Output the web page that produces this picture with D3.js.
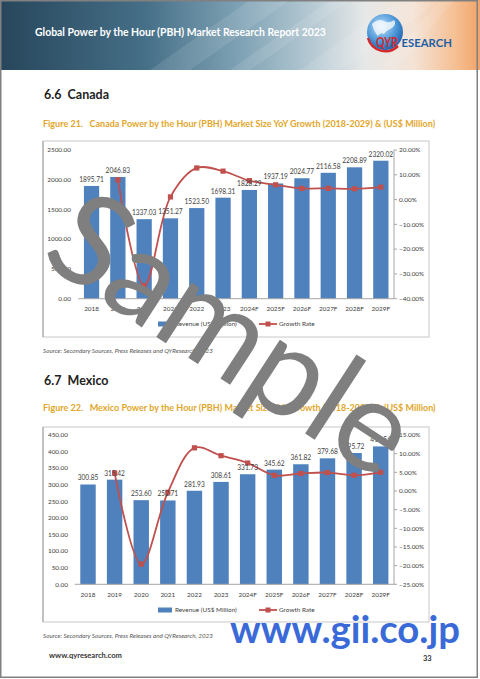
<!DOCTYPE html>
<html><head><meta charset="utf-8">
<script src="https://cdn.jsdelivr.net/npm/d3@7"></script>
<style>
body{margin:0;background:#fff}
svg{display:block}
text{font-family:Lato,"Open Sans",sans-serif}
</style>
</head><body>
<svg id="c" width="480" height="679"></svg>
<script>
// ---------------- data ----------------
const years = ["2018","2019","2020","2021","2022","2023","2024F","2025F","2026F","2027F","2028F","2029F"];
const canadaRevenue = [1895.71,2046.83,1337.03,1351.27,1523.50,1698.31,1828.29,1937.19,2024.77,2116.58,2208.89,2320.02];
const canadaGrowth  = [null,7.97,-34.68,1.07,12.75,11.47,7.65,5.96,4.52,4.53,4.36,5.03];
const mexicoRevenue = [300.85,315.42,253.60,252.71,281.93,308.61,331.73,345.62,361.82,379.68,395.72,415.56];
const mexicoGrowth  = [null,4.84,-19.60,-0.35,11.56,9.46,7.49,4.19,4.69,4.94,4.22,5.01];
const canadaLeftTicks  = [0,500,1000,1500,2000,2500];
const canadaRightTicks = [-40,-30,-20,-10,0,10,20];
const mexicoLeftTicks  = [0,50,100,150,200,250,300,350,400,450];
const mexicoRightTicks = [-25,-20,-15,-10,-5,0,5,10,15];
const seriesNames = ["Revenue (US$ Million)","Growth Rate"];
const headerTitle = "Global Power by the Hour (PBH) Market Research Report 2023";
const sourceText = "Source: Secondary Sources, Press Releases and QYResearch, 2023";

// ---------------- helpers ----------------
const svg = d3.select("#c");
const defs = svg.append("defs");
function fit(sel, w){
  const n = sel.node(); const cur = n.getComputedTextLength();
  const fs = parseFloat(sel.attr("font-size"));
  if (cur > 0) sel.attr("font-size", fs * w / cur);
  return sel;
}

// ---------------- header ----------------
const hg = defs.append("linearGradient").attr("id","hg").attr("x1","0").attr("x2","1").attr("y1","0").attr("y2","0");
[[0,"#27465b"],[0.3,"#456f87"],[0.5,"#7fa2b5"],[0.65,"#b5c9d3"],[0.76,"#e6e8e8"],[0.86,"#f4e3d6"],[0.95,"#f5bf92"],[1,"#f2a46a"]]
  .forEach(s => hg.append("stop").attr("offset", s[0]).attr("stop-color", s[1]));
svg.append("rect").attr("x",0).attr("y",0).attr("width",480).attr("height",70).attr("fill","url(#hg)");
const stripes = [[[150,70],[250,0],[290,0],[190,70]],[[230,70],[330,0],[350,0],[250,70]],[[300,70],[400,0],[440,0],[340,70]],[[380,70],[440,0],[455,0],[395,70]]];
stripes.forEach(p => svg.append("polygon").attr("points", p.map(q=>q.join(",")).join(" ")).attr("fill","#ffffff").attr("opacity",0.1));
fit(svg.append("text").attr("x",35).attr("y",36).attr("font-size",10).attr("font-weight","bold").attr("fill","#ffffff").text(headerTitle), 291);

// logo
const lg = defs.append("radialGradient").attr("id","lg").attr("cx","0.4").attr("cy","0.35").attr("r","0.7");
lg.append("stop").attr("offset",0).attr("stop-color","#bfe2fa");
lg.append("stop").attr("offset",0.6).attr("stop-color","#4c97d8");
lg.append("stop").attr("offset",1).attr("stop-color","#1d5ea8");
svg.append("circle").attr("cx",385).attr("cy",32).attr("r",18).attr("fill","url(#lg)");
svg.append("path").attr("d","M372,24 q6,-6 12,-3 q5,3 10,-1 q3,4 -2,8 q-5,2 -8,6 q-4,-2 -6,2 q-4,-4 -6,-12z").attr("fill","#ffffff").attr("opacity",0.75);
svg.append("path").attr("d","M368,38 A18,18 0 0 0 398,46").attr("fill","none").attr("stroke","#d3282c").attr("stroke-width",2.5);
svg.append("text").attr("transform","translate(376,47) scale(0.76,1)").attr("font-family","Liberation Sans").attr("font-weight","bold")
  .attr("font-size",14).attr("fill","#d3282c").text("QYR");
svg.append("text").attr("transform","translate(401.5,47) scale(1.0,1)").attr("font-family","Liberation Sans").attr("font-weight","bold")
  .attr("font-size",11.3).attr("fill","#1f5fa6").text("ESEARCH");

// ---------------- chart drawing ----------------
function drawChart(cfg){
  const g = svg.append("g");
  g.append("rect").attr("x",cfg.frame[0]).attr("y",cfg.frame[1]).attr("width",cfg.frame[2]).attr("height",cfg.frame[3])
    .attr("fill","none").attr("stroke","#c8c8c8").attr("stroke-width",1);
  g.append("line").attr("x1",cfg.frame[0]).attr("x2",cfg.frame[0]).attr("y1",cfg.frame[1]).attr("y2",cfg.frame[1]+cfg.frame[3]).attr("stroke","#a0a0a0");

  const x = d3.scaleBand().domain(years).range([cfg.x0, cfg.x1]).paddingInner(0.42).paddingOuter(0.21);
  const yL = d3.scaleLinear().domain(cfg.leftDomain).range([cfg.yBot, cfg.yTop]);
  const yR = d3.scaleLinear().domain(cfg.rightDomain).range([cfg.yBot, cfg.yTop]);
  const data = years.map((yr,i) => ({yr, v: cfg.revenue[i], g: cfg.growth[i]}));

  g.selectAll(".lt").data(cfg.leftTicks).join("text")
    .attr("x", cfg.leftLabelX).attr("y", d => yL(d)).attr("dy","0.35em")
    .attr("text-anchor","end").attr("font-size",6.4).attr("fill","#404040")
    .text(d => d3.format(".2f")(d));

  g.append("line").attr("x1",cfg.x1).attr("x2",cfg.x1).attr("y1",cfg.yTop).attr("y2",cfg.yBot).attr("stroke","#a6a6a6");
  g.selectAll(".rtk").data(cfg.rightTicks).join("line")
    .attr("x1",cfg.x1).attr("x2",cfg.x1+3).attr("y1",d=>yR(d)).attr("y2",d=>yR(d)).attr("stroke","#a6a6a6");
  g.selectAll(".rt").data(cfg.rightTicks).join("text")
    .attr("x", cfg.x1 + 5).attr("y", d => yR(d)).attr("dy","0.35em")
    .attr("font-size",6.4).attr("fill","#404040")
    .text(d => d3.format(".2f")(d) + "%");

  g.selectAll(".bar").data(data).join("rect")
    .attr("x", d => x(d.yr)).attr("width", x.bandwidth())
    .attr("y", d => yL(d.v)).attr("height", d => yL(0) - yL(d.v))
    .attr("fill","#4f81bd");

  g.append("line").attr("x1",cfg.x0).attr("x2",cfg.x1).attr("y1",yL(0)).attr("y2",yL(0)).attr("stroke","#a6a6a6");

  g.selectAll(".xl").data(years).join("text")
    .attr("x", d => x(d) + x.bandwidth()/2).attr("y", cfg.yBot + 12.5)
    .attr("text-anchor","middle").attr("font-size",6.4).attr("fill","#404040").text(d => d);

  const line = d3.line().defined(d => d.g != null)
    .x(d => x(d.yr) + x.bandwidth()/2).y(d => yR(d.g))
    .curve(d3.curveCatmullRom.alpha(0.5));
  g.append("path").datum(data).attr("d", line).attr("fill","none").attr("stroke","#c0504d").attr("stroke-width",1.8);
  g.selectAll(".mk").data(data.filter(d => d.g != null)).join("rect")
    .attr("x", d => x(d.yr) + x.bandwidth()/2 - 2.6).attr("y", d => yR(d.g) - 2.6)
    .attr("width",5.2).attr("height",5.2).attr("fill","#c0504d");

  g.selectAll(".dl").data(data).join("text")
    .attr("x", d => x(d.yr) + x.bandwidth()/2).attr("y", d => yL(d.v) - 4)
    .attr("text-anchor","middle").attr("font-size",6.6).attr("fill","#404040")
    .text(d => d3.format(".2f")(d.v));

  const ly = cfg.legendY;
  g.append("rect").attr("x",158).attr("y",ly-2.5).attr("width",14).attr("height",5).attr("fill","#4f81bd");
  g.append("text").attr("x",175).attr("y",ly).attr("dy","0.35em").attr("font-size",6.4).attr("fill","#404040").text(seriesNames[0]);
  g.append("line").attr("x1",259).attr("x2",277).attr("y1",ly).attr("y2",ly).attr("stroke","#c0504d").attr("stroke-width",1.8);
  g.append("rect").attr("x",265.5).attr("y",ly-2.5).attr("width",5).attr("height",5).attr("fill","#c0504d");
  g.append("text").attr("x",279).attr("y",ly).attr("dy","0.35em").attr("font-size",6.4).attr("fill","#404040").text(seriesNames[1]);
}

// ---------------- section 6.6 ----------------
svg.append("text").attr("x",44).attr("y",99).attr("font-size",12.5).attr("font-weight","bold").attr("fill","#222").attr("xml:space","preserve").text("6.6  Canada");
fit(svg.append("text").attr("x",43).attr("y",127).attr("font-size",8.5).attr("font-weight","bold").attr("fill","#e2a62a").attr("xml:space","preserve")
  .text("Figure 21.   Canada Power by the Hour (PBH) Market Size YoY Growth (2018-2029) & (US$ Million)"), 393);

drawChart({frame:[43,141,386,196], x0:78.4, x1:394, yTop:150, yBot:298.7,
  leftDomain:[0,2500], rightDomain:[-40,20], leftTicks:canadaLeftTicks, rightTicks:canadaRightTicks,
  leftLabelX:71, legendY:324, revenue:canadaRevenue, growth:canadaGrowth});

fit(svg.append("text").attr("x",43).attr("y",353).attr("font-size",5).attr("font-style","italic").attr("fill","#555").text(sourceText), 170);

// ---------------- section 6.7 ----------------
svg.append("text").attr("x",44).attr("y",385).attr("font-size",12.5).attr("font-weight","bold").attr("fill","#222").attr("xml:space","preserve").text("6.7  Mexico");
fit(svg.append("text").attr("x",43).attr("y",411).attr("font-size",8.5).attr("font-weight","bold").attr("fill","#e2a62a").attr("xml:space","preserve")
  .text("Figure 22.   Mexico Power by the Hour (PBH) Market Size YoY Growth (2018-2029) & (US$ Million)"), 393);

drawChart({frame:[43,427,386,195], x0:74.7, x1:394, yTop:435, yBot:584.3,
  leftDomain:[0,450], rightDomain:[-25,15], leftTicks:mexicoLeftTicks, rightTicks:mexicoRightTicks,
  leftLabelX:68, legendY:610, revenue:mexicoRevenue, growth:mexicoGrowth});

fit(svg.append("text").attr("x",43).attr("y",638).attr("font-size",5).attr("font-style","italic").attr("fill","#555").text(sourceText), 170);

// ---------------- footer ----------------
fit(svg.append("text").attr("x",49).attr("y",658).attr("font-size",6.5).attr("font-weight","bold").attr("fill","#333").text("www.qyresearch.com"), 73);
svg.append("text").attr("x",423).attr("y",661).attr("font-size",7.5).attr("font-weight","bold").attr("fill","#333").text("33");

// ---------------- watermarks ----------------
svg.append("text").attr("transform","translate(226,344) rotate(33)")
  .attr("text-anchor","middle").attr("dy","0.25em")
  .attr("font-family","Liberation Sans").attr("font-size",128).attr("fill","#7f7f7f").text("Sample");
fit(svg.append("text").attr("x",230).attr("y",643).attr("font-family","Liberation Sans").attr("font-size",40).attr("font-weight","bold").attr("fill","#3a6ad8").text("www.gii.co.jp"), 230);

// page border
svg.append("rect").attr("x",0.75).attr("y",0.75).attr("width",476.5).attr("height",676.5).attr("fill","none").attr("stroke","#808080").attr("stroke-width",1.5);
</script>
</body></html>
